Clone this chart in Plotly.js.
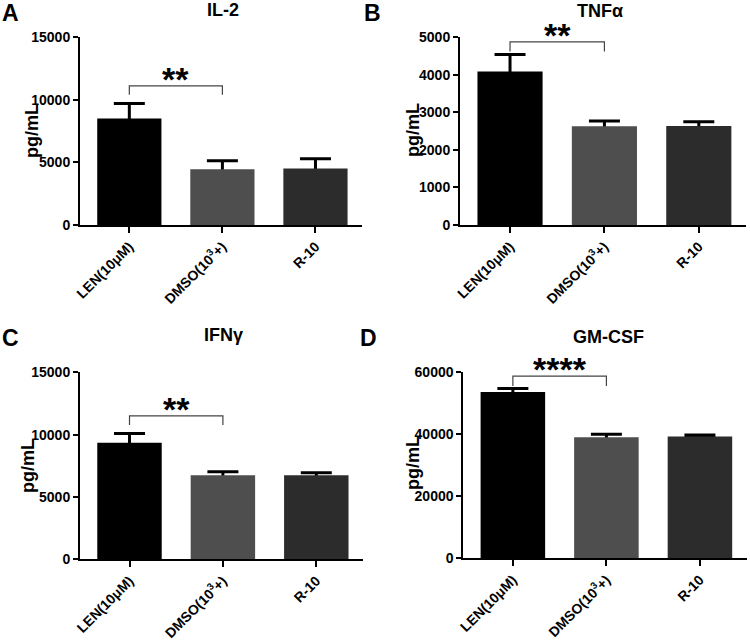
<!DOCTYPE html>
<html>
<head>
<meta charset="utf-8">
<script src="https://cdn.plot.ly/plotly-3.0.1.min.js"></script>
<style>html,body{margin:0;padding:0;background:#fff;}#chart{width:750px;height:640px;}</style>
</head>
<body>
<div id="chart"></div>
<script>
// ---- data ----
const categories = ['LEN(10μM)', 'DMSO(10<sup>3</sup>+)', 'R-10'];
const barColors = ['#000000', '#4e4e4e', '#2c2c2c'];

const panelLetters = ['A', 'B', 'C', 'D'];
const panelTitles = ['IL-2', 'TNFα', 'IFNγ', 'GM-CSF'];
const yMax = [15000, 5000, 15000, 60000];
const yTickStep = [5000, 1000, 5000, 20000];

const il2Mean = [8500, 4450, 4500];
const il2Err = [1200, 680, 780];
const tnfMean = [4090, 2630, 2640];
const tnfErr = [450, 140, 110];
const ifnMean = [9350, 6740, 6740];
const ifnErr = [750, 290, 210];
const gmMean = [53500, 38900, 39200];
const gmErr = [1100, 1000, 450];

const sigLabels = ['**', '**', '**', '****'];
const bracketTop = [11100, 4880, 11500, 58600];
const bracketFoot = [10400, 4620, 10770, 55400];

// ---- layout geometry (pixels in 750x640 page) ----
const W = 750, H = 640;
const boxes = [
  {x0: 80, x1: 362, y0: 37, y1: 225},
  {x0: 460, x1: 746, y0: 37.3, y1: 225},
  {x0: 80, x1: 363, y0: 372.3, y1: 559.3},
  {x0: 463.3, x1: 746.7, y0: 371.7, y1: 558.3}
];
const letterPos = [{x: 0, y: 12.5}, {x: 362, y: 12.5}, {x: 0, y: 338}, {x: 358, y: 338}];
const titlePos = [{x: 223, y: 10}, {x: 600, y: 11}, {x: 223, y: 335}, {x: 608, y: 337}];
const ytitlePos = [{x: 32, y: 131}, {x: 413, y: 130}, {x: 28, y: 466}, {x: 413, y: 463}];

const means = [il2Mean, tnfMean, ifnMean, gmMean];
const errs = [il2Err, tnfErr, ifnErr, gmErr];

const FONT = 'Arial, "Liberation Sans", Helvetica, sans-serif';
const px = v => v / W;
const py = v => 1 - v / H;

const data = [];
const layout = {
  width: W, height: H,
  margin: {l: 0, r: 0, t: 0, b: 0},
  paper_bgcolor: '#fff', plot_bgcolor: '#fff',
  showlegend: false,
  barmode: 'overlay',
  font: {family: FONT, color: '#000'},
  annotations: [],
  shapes: []
};

for (let i = 0; i < 4; i++) {
  const sfx = i === 0 ? '' : String(i + 1);
  const xa = 'x' + sfx, ya = 'y' + sfx;
  // error bars (drawn first, lower half hidden behind the opaque bars)
  data.push({
    type: 'bar',
    x: [0, 1, 2],
    y: means[i],
    width: 0.69,
    xaxis: xa, yaxis: ya,
    marker: {color: 'rgba(0,0,0,0)', line: {width: 0}},
    error_y: {
      type: 'data', symmetric: true, array: errs[i],
      color: '#000', thickness: 3, width: 15.5
    },
    hoverinfo: 'none'
  });
  // bars
  data.push({
    type: 'bar',
    x: [0, 1, 2],
    y: means[i],
    width: 0.69,
    xaxis: xa, yaxis: ya,
    marker: {color: barColors, line: {width: 0}},
    hoverinfo: 'none'
  });
  const b = boxes[i];
  layout['xaxis' + sfx] = {
    domain: [px(b.x0), px(b.x1)],
    anchor: ya,
    range: [-0.53, 2.5],
    tickmode: 'array',
    tickvals: [0, 1, 2],
    ticktext: categories,
    tickangle: -45,
    ticks: 'outside', ticklen: 6, tickwidth: 2, tickcolor: '#000',
    showline: true, linewidth: 2, linecolor: '#000',
    showgrid: false, zeroline: false,
    tickfont: {family: FONT, size: 14, weight: 'bold', color: '#000'},
    fixedrange: true
  };
  layout['yaxis' + sfx] = {
    domain: [py(b.y1), py(b.y0)],
    anchor: xa,
    range: [0, yMax[i]],
    tickmode: 'linear', tick0: 0, dtick: yTickStep[i],
    tickformat: 'd',
    ticks: 'outside', ticklen: 5, tickwidth: 2, tickcolor: '#000',
    showline: true, linewidth: 2, linecolor: '#000',
    showgrid: false, zeroline: false,
    tickfont: {family: FONT, size: 14, weight: 'bold', color: '#000'},
    fixedrange: true
  };

  // significance bracket
  layout.shapes.push({
    type: 'path', xref: xa, yref: ya,
    path: 'M 0,' + bracketFoot[i] + ' L 0,' + bracketTop[i] + ' L 1,' + bracketTop[i] + ' L 1,' + bracketFoot[i],
    line: {color: '#444', width: 1.2}
  });
  layout.annotations.push({
    xref: xa, yref: ya, x: 0.5, y: bracketTop[i],
    text: sigLabels[i], showarrow: false,
    xanchor: 'center', yanchor: 'bottom', yshift: -14,
    font: {family: FONT, size: 34, weight: 'bold', color: '#000'}
  });

  // panel letter
  layout.annotations.push({
    xref: 'paper', yref: 'paper', x: px(letterPos[i].x), y: py(letterPos[i].y),
    text: panelLetters[i], showarrow: false, xanchor: 'left', yanchor: 'middle',
    font: {family: FONT, size: 23, weight: 'bold', color: '#000'}
  });
  // panel title
  layout.annotations.push({
    xref: 'paper', yref: 'paper', x: px(titlePos[i].x), y: py(titlePos[i].y),
    text: panelTitles[i], showarrow: false, xanchor: 'center', yanchor: 'middle',
    font: {family: FONT, size: 18, weight: 'bold', color: '#000'}
  });
  // y-axis title
  layout.annotations.push({
    xref: 'paper', yref: 'paper', x: px(ytitlePos[i].x), y: py(ytitlePos[i].y),
    text: 'pg/mL', showarrow: false, xanchor: 'center', yanchor: 'middle', textangle: -90,
    font: {family: FONT, size: 18, weight: 'bold', color: '#000'}
  });
}

Plotly.newPlot('chart', data, layout, {displayModeBar: false, staticPlot: true});
</script>
</body>
</html>
